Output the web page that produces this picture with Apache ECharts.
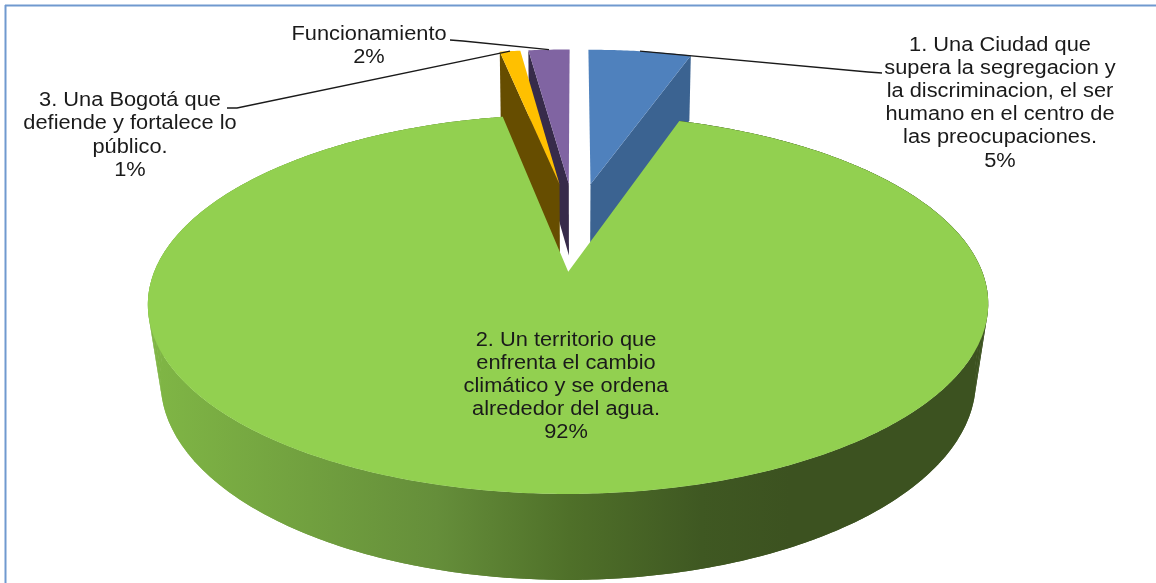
<!DOCTYPE html>
<html>
<head>
<meta charset="utf-8">
<script src="https://cdn.jsdelivr.net/npm/echarts@6/dist/echarts.min.js"></script>
<style>
html, body { margin: 0; padding: 0; background: #fff; }
#chart { width: 1156px; height: 583px; }
</style>
</head>
<body>
<div id="chart"></div>
<script>
// data, clockwise from 12 o'clock
var names = [
    '1. Una Ciudad que\nsupera la segregacion y\nla discriminacion, el ser\nhumano en el centro de\nlas preocupaciones.',
    '2. Un territorio que\nenfrenta el cambio\nclimático y se ordena\nalrededor del agua.',
    '3. Una Bogotá que\ndefiende y fortalece lo\npúblico.',
    'Funcionamiento'
];
var values = [5, 92, 1, 2];

// colours
var topColors = ['#4F81BD', '#92D050', '#FFC000', '#8064A2'];
var wallColors = ['#3B6391', null, '#664D00', '#372B4A'];

// back slices first, green one covers them
var drawOrder = [3, 2, 0, 1];
// which radial wall shows: the far edge of the slice (1) or the near one (0)
var wallEdge = [1, null, 0, 0];

// label centre and where the leader line leaves it
var labelPos = [[1000, 103], [566, 386.5], [130, 135.5], [369, 45.8]];
var leaderStart = [[882, 73], null, [227, 108], [450, 40]];
var leaderKnee = [[868, 72], null, [237, 108], [463, 41]];

// fake 3d: perspective projection of a flat disc
var cx = 575, oy = 226;
var scaleX = 413, scaleY = 176, persp = 0.17;
var radius = 0.96, explode = 0.25, depth = 73.6, depthPow = 0.675;

var total = values.reduce(function (a, b) { return a + b; }, 0);
var starts = [];
var sum = 0;
for (var i = 0; i < values.length; i++) {
    starts.push(sum / total * 2 * Math.PI);
    sum += values[i];
}

function project(ang, r, mid, low) {
    var px = explode * Math.sin(mid) + r * Math.sin(ang);
    var py = explode * Math.cos(mid) + r * Math.cos(ang);
    var w = 1 + persp * py;
    var x = scaleX * px / w;
    var y = oy - scaleY * py / w;
    if (low) {
        // bottom face sits a little narrower, less so at the back
        x = x * (0.97 + 0.015 * Math.max(py, 0));
        y = y + depth / Math.pow(w, depthPow);
    }
    return [cx + x, y];
}

function arcPoints(a0, a1, mid, low) {
    var pts = [];
    var n = Math.max(4, Math.ceil((a1 - a0) / 0.01));
    for (var i = 0; i <= n; i++) {
        pts.push(project(a0 + (a1 - a0) * i / n, radius, mid, low));
    }
    return pts;
}

function poly(points, fill) {
    return {type: 'polygon', shape: {points: points}, style: {fill: fill}};
}

function renderSlice(params, api) {
    var idx = api.value(0);
    var a0 = starts[idx];
    var a1 = a0 + values[idx] / total * 2 * Math.PI;
    var mid = (a0 + a1) / 2;
    var children = [];

    if (wallColors[idx]) {
        var edge = wallEdge[idx] ? a1 : a0;
        children.push(poly([
            project(0, 0, mid, false),
            project(edge, radius, mid, false),
            project(edge, radius, mid, true),
            project(0, 0, mid, true)
        ], wallColors[idx]));
    } else {
        // outer rim of the big slice
        var upper = arcPoints(a0, a1, mid, false);
        var lower = arcPoints(a0, a1, mid, true);
        var sideFill = new echarts.graphic.LinearGradient(160, 0, 790, 0, [
            {offset: 0, color: '#7FB545'},
            {offset: 0.44, color: '#658E3A'},
            {offset: 0.65, color: '#4F7029'},
            {offset: 0.86, color: '#3F5822'},
            {offset: 1, color: '#3C5220'}
        ], true);
        children.push(poly(upper.concat(lower.slice().reverse()), sideFill));
        // strips fill the gap at the left and right where the outline is tangent
        for (var k = 0; k + 4 < upper.length; k += 4) {
            children.push(poly([upper[k], upper[k + 4], lower[k + 4], lower[k]], sideFill));
        }
    }

    children.push(poly([project(0, 0, mid, false)].concat(arcPoints(a0, a1, mid, false)), topColors[idx]));

    if (leaderStart[idx]) {
        children.push({
            type: 'polyline',
            shape: {points: [leaderStart[idx], leaderKnee[idx], project(mid, radius, mid, false)]},
            style: {stroke: '#1a1a1a', lineWidth: 1.3, fill: null}
        });
    }

    // source text is a bit stretched sideways
    children.push({
        type: 'text',
        x: labelPos[idx][0],
        y: labelPos[idx][1],
        scaleX: 1.09,
        style: {
            text: names[idx] + '\n' + Math.round(values[idx] / total * 100) + '%',
            x: 0,
            y: 0,
            align: 'center',
            verticalAlign: 'middle',
            fontFamily: '"Liberation Sans", Arial, sans-serif',
            fontSize: 20,
            lineHeight: 23.2,
            fill: '#1a1a1a'
        }
    });

    return {type: 'group', children: children};
}

var chart = echarts.init(document.getElementById('chart'));

chart.setOption({
    animation: false,
    backgroundColor: '#fff',
    graphic: [
        {type: 'line', shape: {x1: 5.5, y1: 5, x2: 5.5, y2: 583}, style: {stroke: '#7099CF', lineWidth: 2}},
        {type: 'line', shape: {x1: 5, y1: 5.5, x2: 1156, y2: 5.5}, style: {stroke: '#7099CF', lineWidth: 2}}
    ],
    series: [{
        type: 'custom',
        coordinateSystem: 'none',
        silent: true,
        renderItem: renderSlice,
        data: drawOrder.map(function (i) { return [i]; })
    }]
});
</script>
</body>
</html>
